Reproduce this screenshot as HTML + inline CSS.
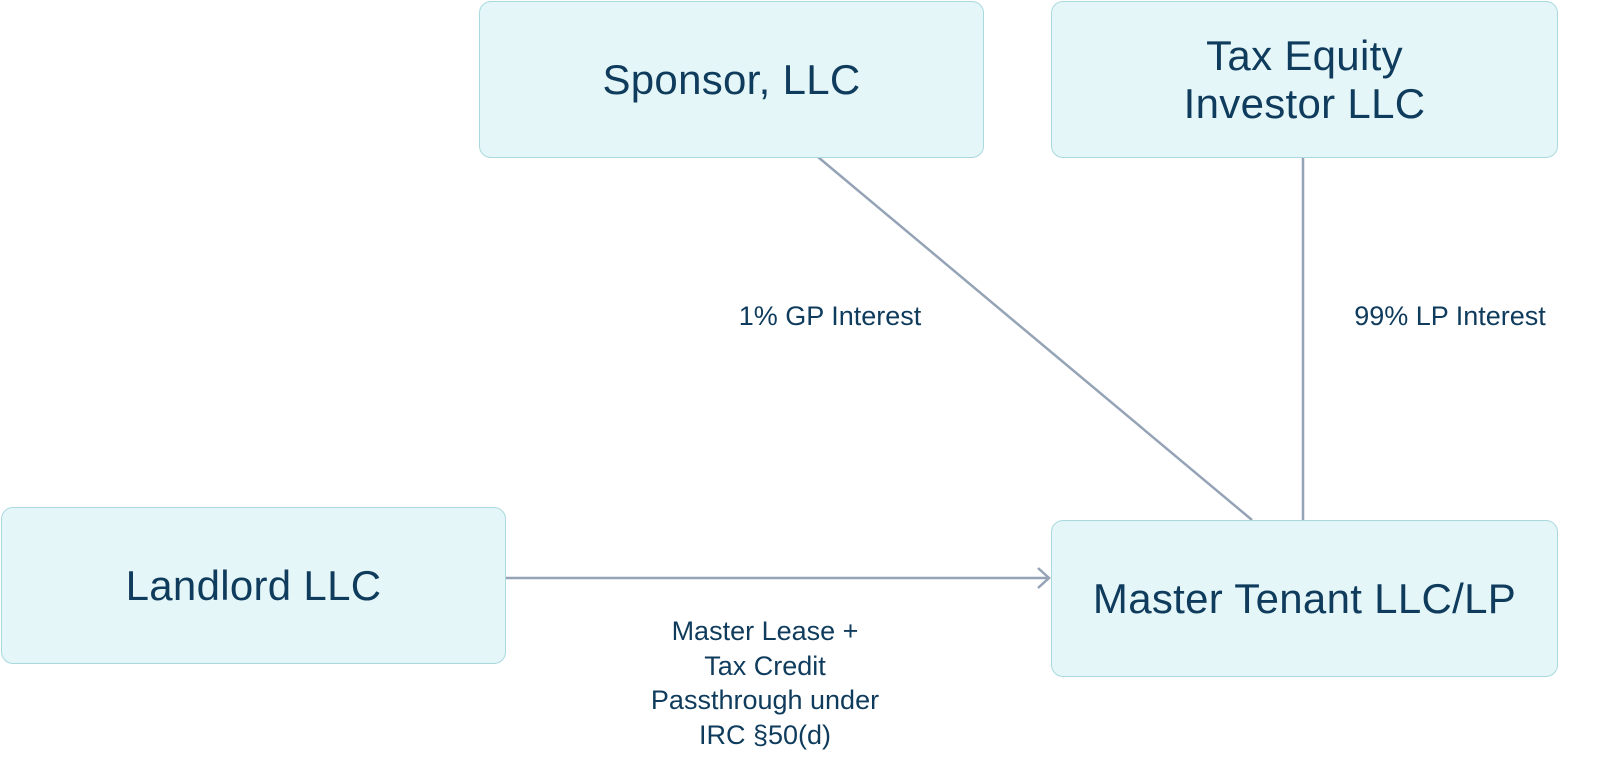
<!DOCTYPE html>
<html><head><style>
body{margin:0;width:1600px;height:767px;background:#fff;position:relative;overflow:hidden;font-family:"Liberation Sans",sans-serif;color:#0f3b5c}
.b{position:absolute;background:#e4f6f7;border:1.5px solid #a9d9df;border-radius:12px;box-sizing:border-box;display:flex;align-items:center;justify-content:center;text-align:center;font-size:42px;line-height:48px;letter-spacing:0.3px}
.l{position:absolute;font-size:27px;line-height:34.5px;text-align:center}
</style></head><body>
<svg width="1600" height="767" style="position:absolute;left:0;top:0">
<g stroke="#95a3b6" stroke-width="2.5" fill="none">
<line x1="818" y1="157" x2="1252" y2="520"/>
<line x1="1303" y1="157" x2="1303" y2="520"/>
<line x1="505" y1="578" x2="1049" y2="578"/>
<polyline points="1038,568 1049,578 1038,588"/>
</g></svg>
<div class="b" style="left:479px;top:1px;width:505px;height:157px">Sponsor, LLC</div>
<div class="b" style="left:1051px;top:1px;width:507px;height:157px">Tax Equity<br>Investor LLC</div>
<div class="b" style="left:1px;top:507px;width:505px;height:157px">Landlord LLC</div>
<div class="b" style="left:1051px;top:520px;width:507px;height:157px">Master Tenant LLC/LP</div>
<div class="l" style="left:700px;top:299px;width:260px">1% GP Interest</div>
<div class="l" style="left:1320px;top:299px;width:260px">99% LP Interest</div>
<div class="l" style="left:600px;top:614px;width:330px">Master Lease +<br>Tax Credit<br>Passthrough under<br>IRC §50(d)</div>
</body></html>
